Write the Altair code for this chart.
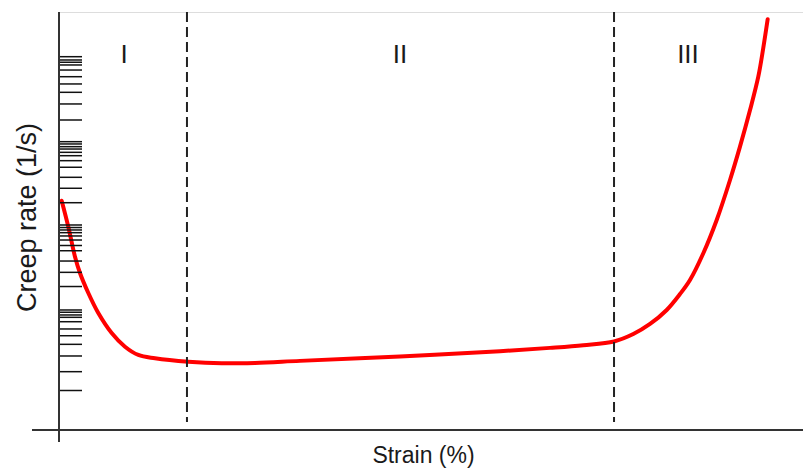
import altair as alt
import pandas as pd

# Creep curve: strain (%) against log10 of creep rate (1/s)
strain = [0.36, 1.25, 2.15, 2.82, 3.94, 5.28, 7.08, 8.87, 10.66, 12.90, 17.38,
          21.87, 26.34, 32.39, 45.83, 59.27, 65.99, 70.47, 74.60, 77.19, 79.44,
          81.68, 83.47, 84.81, 86.60, 88.40, 90.19, 91.53, 92.88, 93.99, 94.66, 95.25]
log_rate = [-6.706, -7.014, -7.370, -7.563, -7.800, -8.037, -8.274, -8.436, -8.534,
            -8.573, -8.614, -8.633, -8.628, -8.604, -8.552, -8.490, -8.450, -8.418,
            -8.374, -8.286, -8.167, -8.001, -7.812, -7.646, -7.329, -6.935, -6.461,
            -6.066, -5.632, -5.237, -4.897, -4.557]

# Minor tick marks along the logarithmic rate axis (log10 of 1/s)
tick_log_rate = [
    -5.000, -5.039, -5.066, -5.098, -5.158, -5.237, -5.323, -5.422, -5.560, -5.750,
    -6.007, -6.034, -6.066, -6.094, -6.133, -6.173, -6.232, -6.310, -6.429, -6.559, -6.730,
    -6.994, -7.024, -7.053, -7.085, -7.124, -7.172, -7.237, -7.299, -7.421, -7.555, -7.723,
    -8.001, -8.028, -8.060, -8.088, -8.140, -8.226, -8.306, -8.408, -8.546, -8.732, -8.955,
]

# Stage boundaries and stage names
boundaries = [17.20, 74.60]
stage_names = ["I", "II", "III"]
stage_centers = [8.74, 45.83, 84.54]

W, H = 744, 418
FONT = "Liberation Sans"

curve = pd.DataFrame({"strain": strain, "rate": [10 ** v for v in log_rate]})
ticks = pd.DataFrame({"rate": [10 ** v for v in tick_log_rate]})
bounds = pd.DataFrame({"strain": boundaries})
stages = pd.DataFrame({"strain": stage_centers, "name": stage_names})

x_scale = alt.Scale(domain=[0, 100], nice=False)
y_scale = alt.Scale(type="log", domain=[10 ** -9.423, 10 ** -4.4704], nice=False)

x_enc = alt.X("strain:Q", scale=x_scale,
              axis=alt.Axis(title="Strain (%)", domain=False, ticks=False, labels=False,
                            grid=False, titleFontSize=23, titleFont=FONT,
                            titleFontWeight="normal", titleColor="#1a1a1a",
                            titleX=364, titleY=25, titleBaseline="middle",
                            titleAlign="center"))

base_y_axis = alt.Axis(title="Creep rate (1/s)", domain=False, ticks=False, labels=False,
                       grid=False, titleFontSize=27, titleFont=FONT,
                       titleFontWeight="normal", titleColor="#1a1a1a",
                       titleX=-32, titleY=205, titleAngle=-90,
                       titleBaseline="middle", titleAlign="center")

line = alt.Chart(curve).mark_line(
    color="#ff0000", strokeWidth=4, interpolate="catmull-rom", strokeCap="round"
).encode(
    x=x_enc,
    y=alt.Y("rate:Q", scale=y_scale, axis=base_y_axis),
)

tick_marks = alt.Chart(ticks).mark_rule(color="#111111", strokeWidth=1.5).encode(
    y=alt.Y("rate:Q", scale=y_scale),
    x=alt.value(0),
    x2=alt.value(23),
)

dashes = alt.Chart(bounds).mark_rule(
    color="#222222", strokeWidth=2, strokeDash=[10, 5]
).encode(
    x=alt.X("strain:Q", scale=x_scale),
    y=alt.value(0),
    y2=alt.value(410),
)

labels = alt.Chart(stages).mark_text(
    font=FONT, fontSize=26, color="#1a1a1a", baseline="middle", align="center"
).encode(
    x=alt.X("strain:Q", scale=x_scale),
    y=alt.value(43),
    text="name:N",
)

# Axis lines, crossing with a short overhang
x_axis_line = alt.Chart(bounds).mark_rule(color="#333333", strokeWidth=2).encode(
    x=alt.value(-27), x2=alt.value(W), y=alt.value(H)
)
y_axis_line = alt.Chart(bounds).mark_rule(color="#333333", strokeWidth=2).encode(
    x=alt.value(0), y=alt.value(0), y2=alt.value(H + 12)
)

chart = alt.layer(
    line, tick_marks, dashes, labels, x_axis_line, y_axis_line
).properties(
    width=W, height=H,
    autosize=alt.AutoSizeParams(type="none"),
    padding={"left": 59, "top": 12, "right": 0, "bottom": 39},
).configure_view(stroke=None).configure(background="white")

chart.save("out.html", embed_options={"renderer": "svg", "actions": False})
